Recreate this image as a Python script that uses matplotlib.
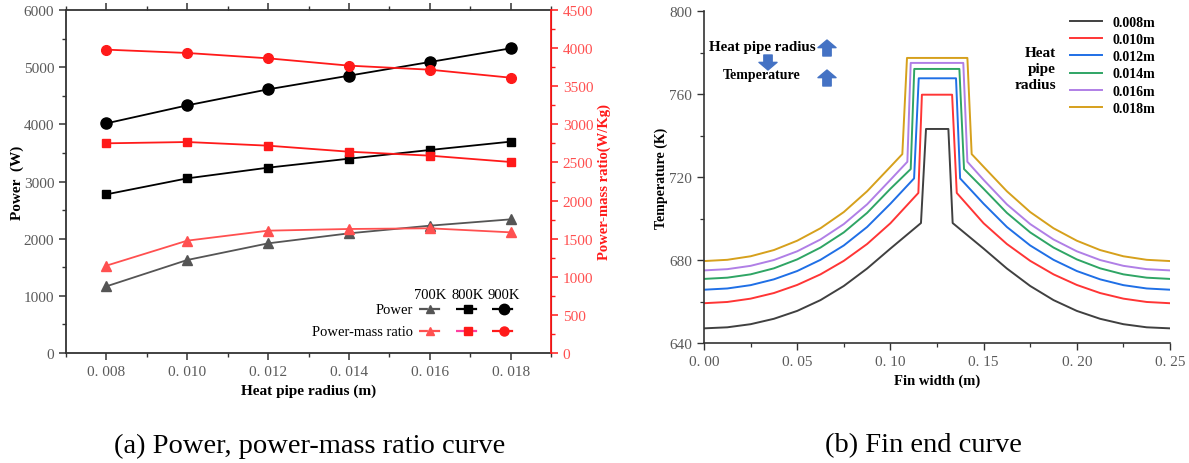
import matplotlib
matplotlib.use('Agg')
import matplotlib.pyplot as plt
from matplotlib.ticker import MultipleLocator
from matplotlib.lines import Line2D

plt.rcParams['font.family'] = ['Liberation Serif', 'DejaVu Serif']

# Power and power-mass ratio vs heat pipe radius
radius = [0.008, 0.010, 0.012, 0.014, 0.016, 0.018]
radius_labels = ['0. 008', '0. 010', '0. 012', '0. 014', '0. 016', '0. 018']
power_700 = [1166, 1627, 1918, 2093, 2227, 2338]
power_800 = [2775, 3055, 3242, 3399, 3551, 3697]
power_900 = [4017, 4332, 4612, 4851, 5090, 5329]
ratio_700 = [1146, 1474, 1605, 1627, 1636, 1583]
ratio_800 = [2751, 2768, 2720, 2641, 2589, 2506]
ratio_900 = [3980, 3936, 3866, 3770, 3717, 3612]

# Fin end temperature profiles (left flank, plateau, right flank)
fin_labels = ['0.008m', '0.010m', '0.012m', '0.014m', '0.016m', '0.018m']
fin_colors = ['#404040', '#ff3535', '#1f6fe6', '#2fa565', '#b07fe6', '#d6a01c']
flank_x_left = [0.0, 0.0125, 0.025, 0.0375, 0.05, 0.0625, 0.075, 0.0875, 0.10]
flank_x_right = [0.15, 0.1625, 0.175, 0.1875, 0.20, 0.2125, 0.225, 0.2375, 0.25]
flank_t_left = [
    [647.2, 647.7, 649.2, 651.8, 655.6, 660.8, 667.6, 676.0, 685.6],
    [659.3, 659.9, 661.5, 664.2, 668.1, 673.2, 679.7, 687.8, 697.8],
    [665.8, 666.4, 668.0, 670.8, 674.8, 680.2, 687.1, 696.0, 707.2],
    [671.0, 671.6, 673.2, 676.1, 680.4, 686.1, 693.4, 702.8, 714.4],
    [675.1, 675.7, 677.3, 680.1, 684.3, 690.0, 697.4, 706.9, 718.7],
    [679.6, 680.2, 681.9, 684.9, 689.4, 695.4, 703.2, 713.2, 725.0],
]
flank_t_right = [
    [685.6, 676.0, 667.6, 660.8, 655.6, 651.8, 649.2, 647.7, 647.2],
    [697.8, 687.8, 679.7, 673.2, 668.1, 664.2, 661.5, 659.9, 659.3],
    [707.2, 696.0, 687.1, 680.2, 674.8, 670.8, 668.0, 666.4, 665.8],
    [714.4, 702.8, 693.4, 686.1, 680.4, 676.1, 673.2, 671.6, 671.0],
    [718.7, 706.9, 697.4, 690.0, 684.3, 680.1, 677.3, 675.7, 675.1],
    [725.0, 713.2, 703.2, 695.4, 689.4, 684.9, 681.9, 680.2, 679.6],
]
# x of left shoulder, plateau start, plateau end, right shoulder
edge_x = [
    [0.1164, 0.1191, 0.1311, 0.1334],
    [0.1150, 0.1169, 0.1331, 0.1356],
    [0.1127, 0.1152, 0.1352, 0.1374],
    [0.1109, 0.1128, 0.1370, 0.1395],
    [0.1091, 0.1109, 0.1391, 0.1413],
    [0.1064, 0.1089, 0.1413, 0.1436],
]
shoulder_t = [697.9, 712.4, 719.4, 723.9, 727.4, 731.1]
plateau_t = [743.2, 759.7, 767.6, 772.1, 775.0, 777.4]
fin_ticks = [0.0, 0.05, 0.10, 0.15, 0.20, 0.25]
fin_tick_labels = ['0. 00', '0. 05', '0. 10', '0. 15', '0. 20', '0. 25']

W, H = 1189, 464
fig = plt.figure(figsize=(W / 100, H / 100), dpi=100)

tick_grey = '#5a5a5a'
red = '#ff1a1a'
light_red = '#ff5050'

# ---- (a) power / power-mass ratio ----
ax1 = fig.add_axes([66 / W, 1 - 354 / H, 485 / W, 343 / H])
ax2 = ax1.twinx()

ax1.plot(radius, power_700, color='#555555', marker='^', ms=6.5, lw=1.3)
ax1.plot(radius, power_800, color='black', marker='s', ms=6, lw=1.3)
ax1.plot(radius, power_900, color='black', marker='o', ms=8, lw=1.3)
ax2.plot(radius, ratio_700, color=light_red, marker='^', ms=6.5, lw=1.3)
ax2.plot(radius, ratio_800, color=red, marker='s', ms=6, lw=1.3)
ax2.plot(radius, ratio_900, color=red, marker='o', ms=7, lw=1.3)

ax1.set_xlim(0.007, 0.019)
ax1.set_ylim(0, 6000)
ax2.set_ylim(0, 4500)
ax1.set_xticks(radius)
ax1.set_xticklabels(radius_labels)
ax1.xaxis.set_minor_locator(MultipleLocator(0.001))
ax1.yaxis.set_major_locator(MultipleLocator(1000))
ax1.yaxis.set_minor_locator(MultipleLocator(500))
ax2.yaxis.set_major_locator(MultipleLocator(500))
ax2.yaxis.set_minor_locator(MultipleLocator(250))

ax1.tick_params(axis='both', which='major', direction='out', length=5, width=1.1,
                color='#333333', labelcolor=tick_grey, labelsize=11)
ax1.tick_params(axis='both', which='minor', direction='out', length=3, width=1.0, color='#333333')
ax1.tick_params(axis='x', which='both', top=True)
ax2.tick_params(axis='y', which='major', direction='out', length=5, width=1.1,
                color=red, labelcolor=light_red, labelsize=11)
ax2.tick_params(axis='y', which='minor', direction='out', length=3, width=1.0, color=red)

for side in ['left', 'bottom', 'top']:
    ax1.spines[side].set_color('#333333')
    ax1.spines[side].set_linewidth(1.3)
ax2.spines['right'].set_color(red)
ax2.spines['right'].set_linewidth(1.3)
ax2.spines['left'].set_visible(False)
ax2.spines['top'].set_visible(False)
ax2.spines['bottom'].set_visible(False)

ax1.set_xlabel('Heat pipe radius (m)', fontsize=11, fontweight='bold', labelpad=4)
ax1.set_ylabel('Power  (W)', fontsize=11, fontweight='bold', labelpad=0)
ax2.set_ylabel('Power-mass ratio(W/Kg)', fontsize=10.5, fontweight='bold', color=red, labelpad=3)

# custom legend: rows are quantities, columns are temperatures
col_x = [0.7515, 0.828, 0.903]
row_y = [0.128, 0.064]
half = 0.024
leg_styles = [
    [('#555555', '#555555', '^', 6), ('black', 'black', 's', 5.5), ('black', 'black', 'o', 7.5)],
    [(light_red, light_red, '^', 6), ('#ff3fa0', red, 's', 6), (red, red, 'o', 6.5)],
]
for cx, name in zip(col_x, ['700K', '800K', '900K']):
    ax1.text(cx, 0.172, name, transform=ax1.transAxes, ha='center', va='center', fontsize=10.5)
for ry, name, styles in zip(row_y, ['Power', 'Power-mass ratio'], leg_styles):
    ax1.text(0.7155, ry, name, transform=ax1.transAxes, ha='right', va='center', fontsize=10.5)
    for cx, (lc, mc, mk, ms) in zip(col_x, styles):
        ax1.add_line(Line2D([cx - half, cx + half], [ry, ry], transform=ax1.transAxes,
                            color=lc, lw=1.6, dashes=(4, 1.5)))
        ax1.add_line(Line2D([cx], [ry], transform=ax1.transAxes, color=mc,
                            marker=mk, ms=ms, lw=0))

fig.text(310 / W, 1 - 446 / H, '(a) Power, power-mass ratio curve', ha='center', va='center', fontsize=20.5)

# ---- (b) fin end temperature ----
ax3 = fig.add_axes([704 / W, 1 - 344.3 / H, 466 / W, 332.3 / H])
handles = []
for i in range(len(fin_labels)):
    xs = flank_x_left + edge_x[i] + flank_x_right
    ts = (flank_t_left[i] + [shoulder_t[i], plateau_t[i], plateau_t[i], shoulder_t[i]]
          + flank_t_right[i])
    ln, = ax3.plot(xs, ts, color=fin_colors[i], lw=1.4)
    handles.append(ln)

ax3.set_xlim(0, 0.25)
ax3.set_ylim(640, 800)
ax3.set_xticks(fin_ticks)
ax3.set_xticklabels(fin_tick_labels)
ax3.xaxis.set_minor_locator(MultipleLocator(0.025))
ax3.yaxis.set_major_locator(MultipleLocator(40))
ax3.yaxis.set_minor_locator(MultipleLocator(20))
ax3.tick_params(axis='both', which='major', direction='out', length=5, width=1.0,
                color='#333333', labelcolor=tick_grey, labelsize=11)
ax3.tick_params(axis='both', which='minor', direction='out', length=3, width=0.9, color='#333333')
ax3.spines['top'].set_visible(False)
ax3.spines['right'].set_visible(False)
for side in ['left', 'bottom']:
    ax3.spines[side].set_color('#333333')
    ax3.spines[side].set_linewidth(1.2)
ax3.set_xlabel('Fin width (m)', fontsize=10.5, fontweight='bold', labelpad=4)
ax3.set_ylabel('Temperature (K)', fontsize=10, fontweight='bold', labelpad=1)

ax3.legend(handles, fin_labels, loc='upper left', bbox_to_anchor=(0.7845, 0.985),
           frameon=False, borderaxespad=0, borderpad=0, handlelength=2.3,
           handletextpad=0.8, labelspacing=0.3, prop={'weight': 'bold', 'size': 10})
ax3.text(0.755, 0.8255, 'Heat\npipe\nradius', transform=ax3.transAxes, ha='right',
         va='center', fontsize=11, fontweight='bold', linespacing=1.3)

ax3.text(709 / W, 1 - 48 / H, 'Heat pipe radius', transform=fig.transFigure,
         ha='left', va='center', fontsize=10.8, fontweight='bold')
ax3.text(762 / W, 1 - 76 / H, 'Temperature', transform=fig.transFigure,
         ha='center', va='center', fontsize=10, fontweight='bold')
arrow_style = dict(arrowstyle='simple,head_length=0.55,head_width=1.3,tail_width=0.6',
                   color='#4472c4', shrinkA=0, shrinkB=0)
for x0, y_from, y_to in [(827, 57, 41), (827, 87, 71), (768, 56, 71)]:
    ax3.annotate('', xy=(x0, H - y_to), xytext=(x0, H - y_from),
                 xycoords='figure pixels', textcoords='figure pixels', arrowprops=arrow_style)

fig.text(923 / W, 1 - 446 / H, '(b) Fin end curve', ha='center', va='center', fontsize=20.5)

fig.savefig('out.png', dpi=100)
